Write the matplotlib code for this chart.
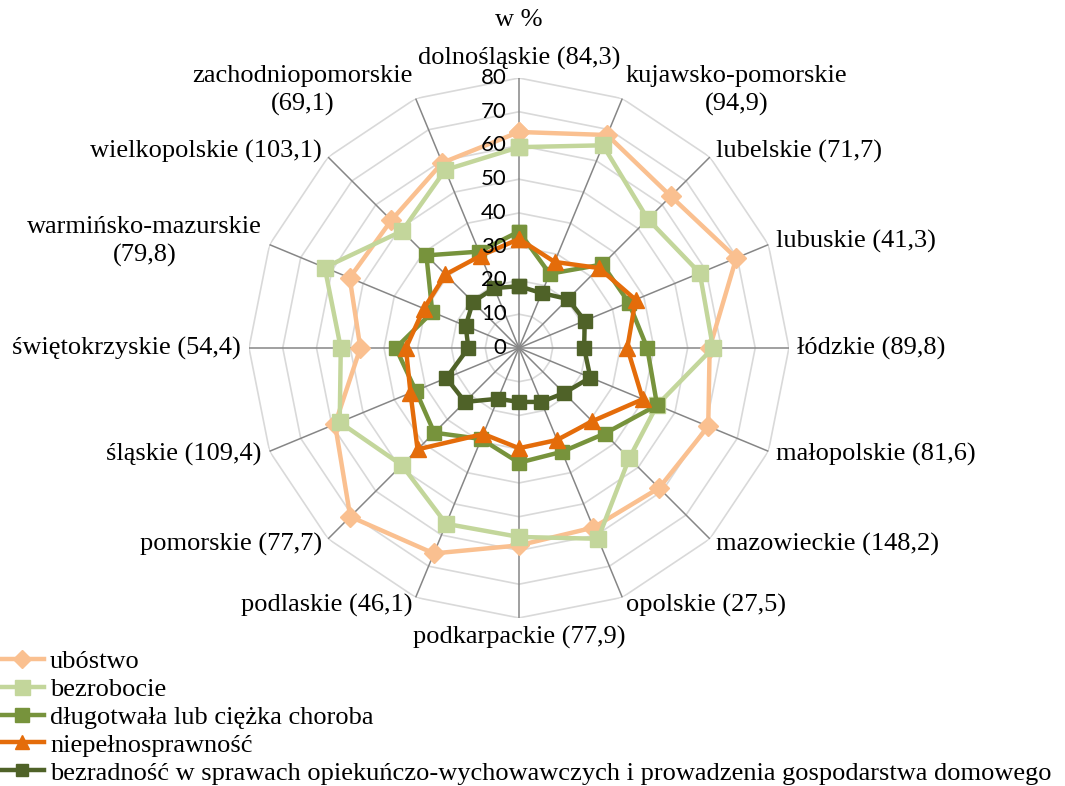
import numpy as np
import matplotlib.pyplot as plt
from matplotlib.lines import Line2D

# Województwa z wartością w nawiasie
wojewodztwa = ["dolnośląskie (84,3)", "kujawsko-pomorskie\n(94,9)", "lubelskie (71,7)",
               "lubuskie (41,3)", "łódzkie (89,8)", "małopolskie (81,6)",
               "mazowieckie (148,2)", "opolskie (27,5)", "podkarpackie (77,9)",
               "podlaskie (46,1)", "pomorskie (77,7)", "śląskie (109,4)",
               "świętokrzyskie (54,4)", "warmińsko-mazurskie\n(79,8)",
               "wielkopolskie (103,1)", "zachodniopomorskie\n(69,1)"]

# Wartości w %
ubostwo = [64.0, 68.3, 63.6, 69.7, 56.5, 60.7, 58.7, 57.6, 58.5, 65.9, 70.7, 59.0, 47.0, 54.3, 53.5, 59.4]
bezrobocie = [59.5, 65.0, 54.0, 58.0, 57.5, 44.3, 46.2, 61.2, 56.0, 56.4, 49.1, 57.5, 52.8, 62.3, 49.0, 57.1]
choroba = [34.5, 23.8, 35.0, 35.2, 38.0, 44.3, 35.9, 33.3, 34.0, 29.2, 35.5, 33.1, 36.5, 27.8, 38.8, 30.9]
niepelnosprawnosc = [32.3, 27.6, 33.5, 37.4, 32.1, 39.7, 30.7, 29.5, 29.7, 27.6, 42.5, 34.8, 33.5, 30.5, 30.8, 29.6]
bezradnosc = [18.3, 17.6, 20.5, 21.1, 19.3, 22.9, 18.9, 17.3, 16.0, 16.3, 22.6, 23.3, 15.0, 17.1, 19.3, 19.2]

serie = [
    ("ubóstwo", ubostwo, "#FAC090", "D", 10),
    ("bezrobocie", bezrobocie, "#C3D69B", "s", 12),
    ("długotwała lub ciężka choroba", choroba, "#77933C", "s", 10.5),
    ("niepełnosprawność", niepelnosprawnosc, "#E46C0A", "^", 11),
    ("bezradność w sprawach opiekuńczo-wychowawczych i prowadzenia gospodarstwa domowego",
     bezradnosc, "#4F6228", "s", 10),
]

ticks = [0, 10, 20, 30, 40, 50, 60, 70, 80]

serif = "Liberation Serif"
fs = 19
n = len(wojewodztwa)
theta = np.linspace(0, 2 * np.pi, n, endpoint=False)
theta_c = np.append(theta, theta[0])

fig = plt.figure(figsize=(10.65, 7.86), dpi=100)
ax = fig.add_axes([0.2338, 0.2138, 0.507, 0.687], projection="polar")
ax.set_theta_zero_location("N")
ax.set_theta_direction(-1)
ax.set_ylim(0, 80)
ax.grid(False)
ax.set_xticks([])
ax.set_yticks([])
ax.spines["polar"].set_visible(False)
ax.patch.set_alpha(0)

# siatka wielokątna
for t in ticks[1:]:
    ax.plot(theta_c, [t] * (n + 1), color="#D9D9D9", lw=1.2, zorder=1)
for a in theta:
    ax.plot([a, a], [0, 80], color="#868686", lw=1.1, zorder=1)

for nazwa, vals, col, mk, ms in serie:
    v = list(vals) + [vals[0]]
    ax.plot(theta_c, v, color=col, lw=3.2, marker=mk, markersize=ms, zorder=3,
            clip_on=False)

# etykiety osi promieniowej (nad seriami, jak w Excelu)
for t in ticks:
    ax.annotate(str(t), xy=(0, t), xytext=(-9, 0), textcoords="offset points",
                ha="right", va="center", fontsize=16, family="Lato", color="#000000",
                zorder=6)

for a, lab in zip(theta, wojewodztwa):
    s = np.sin(a)
    c = np.cos(a)
    if abs(s) < 1e-6:
        ha = "center"
        va = "bottom" if c > 0 else "top"
    else:
        ha = "left" if s > 0 else "right"
        va = "center"
    ax.text(a, 82.5, lab, ha=ha, va=va, multialignment="center",
            fontsize=fs, family=serif, linespacing=1.35)

fig.text(519 / 1065, 1 - 20 / 786, "w %", ha="center", va="center", fontsize=fs, family=serif)

handles = [Line2D([0], [0], color=col, lw=3.2, marker=mk, markersize=ms * 0.9)
           for _, _, col, mk, ms in serie]
fig.legend(handles, [s[0] for s in serie], loc="lower left", bbox_to_anchor=(0.0, 0.0),
           frameon=False, prop={"family": serif, "size": fs}, handlelength=1.6,
           handletextpad=0.25, labelspacing=0.17, borderaxespad=0.0, borderpad=0.05)

fig.savefig("out.png", dpi=100)
